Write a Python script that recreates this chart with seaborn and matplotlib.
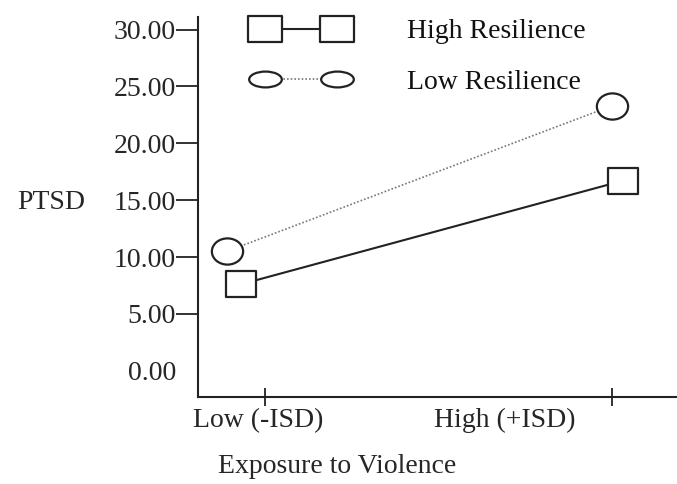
import numpy as np
import pandas as pd
import matplotlib
matplotlib.use('Agg')
import matplotlib.pyplot as plt
import seaborn as sns
from matplotlib.path import Path
from matplotlib.lines import Line2D

# Data
groups = ['High Resilience', 'Low Resilience']
exposure_labels = ['Low (-ISD)', 'High (+ISD)']
exposure_ticks = [0, 1]
label_pos = [-0.02, 0.69]
high_x = [-0.07, 1.03]
high_ptsd = [7.6, 16.7]
low_x = [-0.11, 1.0]
low_ptsd = [10.5, 23.3]
y_ticks = [0, 5, 10, 15, 20, 25, 30]

df = pd.DataFrame({
    'x': high_x + low_x,
    'PTSD': high_ptsd + low_ptsd,
    'group': [groups[0]] * 2 + [groups[1]] * 2,
})


def box_marker(w, h):
    verts = [(-w, -h), (w, -h), (w, h), (-w, h), (-w, -h)]
    codes = [Path.MOVETO, Path.LINETO, Path.LINETO, Path.LINETO, Path.CLOSEPOLY]
    return Path(verts, codes)


def oval_marker(w, h):
    c = Path.unit_circle()
    return Path(c.vertices * np.array([w, h]), c.codes)


sns.set_theme(style='white')
plt.rcParams['font.family'] = ['Liberation Serif', 'DejaVu Serif']
plt.rcParams['text.color'] = '#111111'
FS = 20

fig = plt.figure(figsize=(6.77, 4.84), dpi=100)
ax = fig.add_axes([198 / 677, 1 - 397 / 484, 1 - 198 / 677, 380 / 484])

edge = '#222222'
sns.lineplot(data=df[df['group'] == groups[0]], x='x', y='PTSD', ax=ax,
             color='#222222', linewidth=1.5, linestyle='-',
             marker=box_marker(29, 26), markersize=21, markerfacecolor='white',
             markeredgecolor=edge, markeredgewidth=1.6, legend=False)
sns.lineplot(data=df[df['group'] == groups[1]], x='x', y='PTSD', ax=ax,
             color='#777777', linewidth=1.2, linestyle=(0, (1, 1.2)),
             marker=oval_marker(31, 26), markersize=22.5, markerfacecolor='white',
             markeredgecolor=edge, markeredgewidth=1.6, legend=False)

ax.set_xlim(-0.193, 1.187)
ax.set_ylim(-2.3, 31.1)

for s in ['top', 'right']:
    ax.spines[s].set_visible(False)
for s in ['left', 'bottom']:
    ax.spines[s].set_color('#222222')
    ax.spines[s].set_linewidth(1.5)

# y axis
ax.set_yticks(y_ticks)
ax.set_yticklabels([f'{v:.2f}' for v in y_ticks], fontsize=FS)
ax.tick_params(axis='y', which='major', direction='out', length=16, width=1.3,
               color='#222222', pad=0, left=True)
ax.yaxis.get_major_ticks()[0].tick1line.set_visible(False)

# x axis: tick marks at the category positions, labels separately
ax.set_xticks(exposure_ticks)
ax.set_xticklabels(['', ''])
ax.tick_params(axis='x', which='major', direction='inout', length=13, width=1.3,
               color='#222222', bottom=True)
ax.set_xticks(label_pos, minor=True)
ax.set_xticklabels(exposure_labels, minor=True, fontsize=FS)
ax.tick_params(axis='x', which='minor', length=0, pad=8)

ax.set_xlabel('Exposure to Violence', fontsize=FS)
ax.xaxis.set_label_coords(0.29, -0.15)
ax.set_ylabel('PTSD', fontsize=FS, rotation=0, ha='center', va='center')
ax.yaxis.set_label_coords(-0.307, 0.513)

handles = [
    Line2D([], [], color='#222222', linewidth=1.5, linestyle='-',
           marker=box_marker(34, 25), markersize=24.5, markerfacecolor='white',
           markeredgecolor=edge, markeredgewidth=1.6),
    Line2D([], [], color='#777777', linewidth=1.2, linestyle=(0, (1, 1.2)),
           marker=oval_marker(33, 16), markersize=23.5, markerfacecolor='white',
           markeredgecolor=edge, markeredgewidth=1.6),
]
ax.legend(handles, groups, loc='upper left', bbox_to_anchor=(0.123, 0.995),
          frameon=False, fontsize=FS, numpoints=2, handlelength=3.2,
          handletextpad=2.2, labelspacing=0.9, borderpad=0, borderaxespad=0)

fig.savefig('out.png', dpi=100)
